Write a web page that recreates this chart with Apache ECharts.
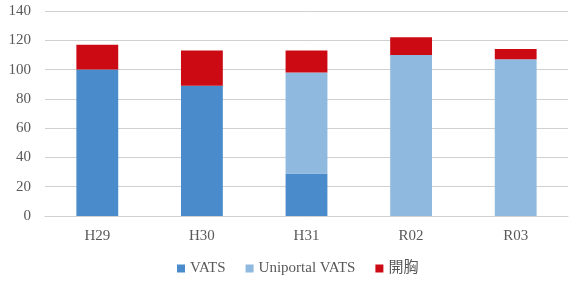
<!DOCTYPE html>
<html><head><meta charset="utf-8">
<script src="https://cdn.jsdelivr.net/npm/echarts@6/dist/echarts.min.js"></script>
<style>html,body{margin:0;padding:0;background:#fff}#c{width:577px;height:285px}</style>
</head><body><div id="c"></div>
<script>
const categories = ['H29','H30','H31','R02','R03'];
const vats = [100, 89, 29, 0, 0];
const uniportal = [0, 0, 69, 110, 107];
const open = [17, 24, 15, 12, 7];
const seriesNames = ['VATS','Uniportal VATS','開胸'];
const colors = ['#4A8CCB','#8FB9DF','#CC0A14'];
const font = '"Liberation Serif", "DejaVu Serif", "Noto Sans CJK JP", serif';
const chart = echarts.init(document.getElementById('c'));
chart.setOption({
  animation:false,
  grid:{left:45,right:9,top:11,bottom:69},
  legend:{bottom:4,left:172,itemWidth:8,itemHeight:8,itemGap:20,icon:'rect',
    textStyle:{fontFamily:font,fontSize:15,color:'#595959'},data:seriesNames},
  xAxis:{type:'category',data:categories,axisTick:{show:false},
    axisLine:{lineStyle:{color:'#D0D0D0',width:1}},
    axisLabel:{fontFamily:font,fontSize:15,color:'#595959',margin:13}},
  yAxis:{type:'value',min:0,max:140,interval:20,
    axisLabel:{fontFamily:font,fontSize:15,color:'#595959',margin:14},
    splitLine:{lineStyle:{color:'#D0D0D0',width:1}},axisLine:{show:false},axisTick:{show:false}},
  series:[
    {name:seriesNames[0],type:'bar',stack:'a',data:vats,barWidth:'40%',itemStyle:{color:colors[0]}},
    {name:seriesNames[1],type:'bar',stack:'a',data:uniportal,barWidth:'40%',itemStyle:{color:colors[1]}},
    {name:seriesNames[2],type:'bar',stack:'a',data:open,barWidth:'40%',itemStyle:{color:colors[2]}}
  ]
});
</script></body></html>
